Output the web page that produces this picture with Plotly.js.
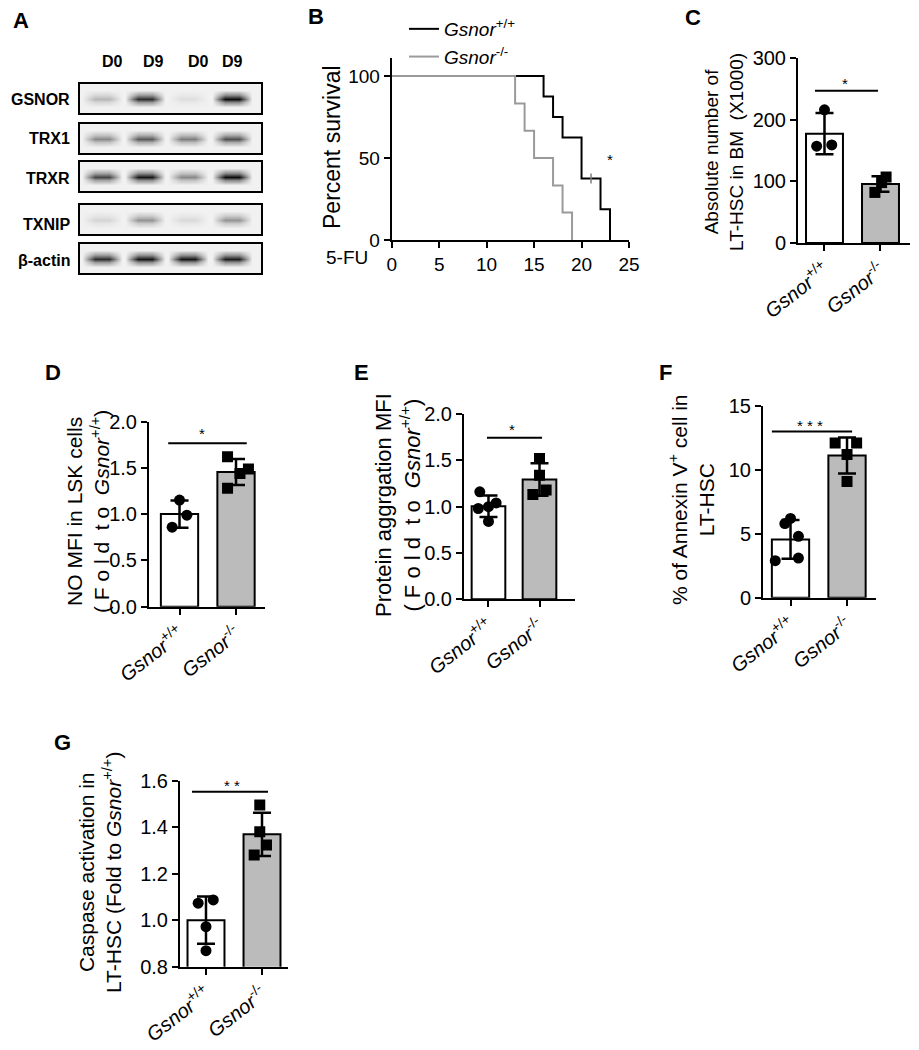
<!DOCTYPE html>
<html><head><meta charset="utf-8">
<script src="https://cdn.plot.ly/plotly-3.0.1.min.js"></script>
<style>html,body{margin:0;padding:0;background:#fff}#chart{width:919px;height:1050px}</style>
</head><body><div id="chart"></div>
<script>
// ================= DATA =================
// Panel A: western blot band darkness (0 = none, 1 = darkest), lanes D0, D9, D0, D9
const blotLanes = ['D0', 'D9', 'D0', 'D9'];
const blotProteins = ['GSNOR', 'TRX1', 'TRXR', 'TXNIP', 'β-actin'];
const gsnorBand = [0.25, 0.85, 0.08, 1.0];
const trx1Band = [0.45, 0.65, 0.5, 0.7];
const trxrBand = [0.75, 0.95, 0.45, 1.0];
const txnipBand = [0.12, 0.4, 0.1, 0.4];
const actinBand = [0.85, 0.95, 0.95, 0.92];

// Panel B: survival after 5-FU
const survWtDays = [0, 16, 17, 18, 20, 22, 23];
const survWtPct = [100, 87.5, 75, 62.5, 37.5, 18.75, 0];
const survKoDays = [0, 13, 14, 15, 17, 18, 19];
const survKoPct = [100, 83.3, 66.7, 50, 33.3, 16.7, 0];
const survWtCensorDay = [21];
const survWtCensorPct = [37.5];
const survXTicks = [0, 5, 10, 15, 20, 25];
const survYTicks = [0, 50, 100];

// Groups
const groupLabels = ['<i>Gsnor</i><sup>+/+</sup>', '<i>Gsnor</i><sup>-/-</sup>'];

// Panel C: absolute number of LT-HSC in BM (x1000)
const cWt = [216, 157, 159];
const cKo = [107, 98, 82];
// Panel D: NO MFI in LSK cells
const dWt = [1.153, 0.99, 0.86];
const dKo = [1.62, 1.49, 1.44, 1.28];
// Panel E: protein aggregation MFI
const eWt = [1.16, 1.04, 1.0, 0.98, 0.84];
const eKo = [1.52, 1.34, 1.18, 1.13];
// Panel F: % Annexin V+ in LT-HSC
const fWt = [6.2, 5.8, 4.8, 3.1, 2.9];
const fKo = [12.1, 12.1, 11.2, 9.1];
// Panel G: caspase activation in LT-HSC
const gWt = [1.073, 1.087, 0.972, 0.869];
const gKo = [1.495, 1.38, 1.323, 1.28];

// ================= LAYOUT / STYLE =================
const W = 919, H = 1050;
const FONT = 'Arial, "Liberation Sans", Helvetica, sans-serif';
const fx = p => p / W;
const fy = p => 1 - p / H;
const GRAY = '#bbbbbb';

// point jitter (horizontal offsets, in category units)
const cWtJit = [0.0, -0.14, 0.13], cKoJit = [0.1, 0.02, -0.1];
const dWtJit = [0.0, 0.13, -0.13], dKoJit = [-0.15, 0.22, 0.07, -0.15];
const eWtJit = [-0.17, 0.15, 0.0, -0.2, 0.0], eKoJit = [0.0, 0.0, 0.13, -0.13];
const fWtJit = [0.0, -0.1, 0.14, 0.14, -0.27], fKoJit = [-0.21, 0.17, 0.0, 0.0];
const gWtJit = [-0.14, 0.13, 0.0, 0.0], gKoJit = [-0.04, -0.04, 0.08, -0.14];

const mean = a => a.reduce((s, v) => s + v, 0) / a.length;
const sd = a => { const m = mean(a); return Math.sqrt(a.reduce((s, v) => s + (v - m) * (v - m), 0) / (a.length - 1)); };

const traces = [];
const layout = {
  width: W, height: H, margin: {l: 0, r: 0, t: 0, b: 0},
  paper_bgcolor: '#fff', plot_bgcolor: 'rgba(0,0,0,0)',
  font: {family: FONT, color: '#000', size: 19},
  showlegend: true,
  legend: {x: fx(404), y: fy(10), xanchor: 'left', yanchor: 'top', bgcolor: 'rgba(0,0,0,0)',
    font: {family: FONT, size: 19, color: '#000'}, tracegroupgap: 0, itemwidth: 30},
  annotations: [], shapes: []
};

function axisBase() {
  return {showgrid: false, zeroline: false, showline: true, linecolor: '#000', linewidth: 2,
    ticks: 'outside', ticklen: 6, tickwidth: 2, tickcolor: '#000',
    tickfont: {family: FONT, size: 20, color: '#000'}, fixedrange: true};
}

// ---------- Panel A: blots ----------
const bands = [gsnorBand, trx1Band, trxrBand, txnipBand, actinBand];
const blotBoxY = [[84, 113], [124, 153], [162, 191], [205, 234], [244, 273]];
const blotLabelY = [99, 138, 178, 224, 260];
const laneCenters = [22, 65, 108, 152];   // px from box left
const boxLeft = 80, boxRight = 261;
const bandHalf = 20, bandFlat = 7;
bands.forEach((b, i) => {
  const n = 7 + i;
  const xs = [0], rowBand = [0], rowSoft = [0];
  laneCenters.forEach((c, j) => {
    xs.push(Math.max(0.5, c - bandHalf), c - bandFlat, c + bandFlat, c + bandHalf);
    rowBand.push(0, b[j], b[j], 0);
    rowSoft.push(0, b[j] * 0.45, b[j] * 0.45, 0);
  });
  xs.push(boxRight - boxLeft); rowBand.push(0); rowSoft.push(0);
  const ys = [0, 0.22, 0.38, 0.5, 0.62, 0.78, 1];
  const zero = xs.map(() => 0);
  const z = [zero, zero, rowSoft, rowBand, rowSoft, zero, zero];
  traces.push({type: 'heatmap', x: xs, y: ys, z: z, zsmooth: 'best', zmin: 0, zmax: 1,
    colorscale: [[0, '#f1f1f1'], [0.5, '#7d7d7d'], [1, '#0c0c0c']], showscale: false,
    hoverinfo: 'skip', xaxis: 'x' + n, yaxis: 'y' + n, showlegend: false});
  layout['xaxis' + n] = {domain: [fx(boxLeft), fx(boxRight)], range: [0, boxRight - boxLeft], anchor: 'y' + n,
    showgrid: false, zeroline: false, showticklabels: false, ticks: '', showline: true, mirror: true,
    linecolor: '#000', linewidth: 1.6, fixedrange: true};
  layout['yaxis' + n] = {domain: [fy(blotBoxY[i][1]), fy(blotBoxY[i][0])], range: [0, 1], anchor: 'x' + n,
    showgrid: false, zeroline: false, showticklabels: false, ticks: '', showline: true, mirror: true,
    linecolor: '#000', linewidth: 1.6, fixedrange: true};
  layout.annotations.push({xref: 'paper', yref: 'paper', x: fx(72), y: fy(blotLabelY[i]), xanchor: 'right', yanchor: 'middle',
    text: '<b>' + blotProteins[i] + '</b>', showarrow: false, font: {family: FONT, size: 16}});
});
const laneHeaderX = [112.5, 153, 198, 233];
blotLanes.forEach((t, j) => layout.annotations.push({xref: 'paper', yref: 'paper', x: fx(laneHeaderX[j]), y: fy(62),
  xanchor: 'center', yanchor: 'middle', text: '<b>' + t + '</b>', showarrow: false, font: {family: FONT, size: 16}}));

// ---------- Panel B: survival ----------
traces.push({type: 'scatter', mode: 'lines', x: survWtDays, y: survWtPct, line: {shape: 'hv', color: '#000', width: 2},
  name: '<i>Gsnor</i><sup>+/+</sup>', xaxis: 'x', yaxis: 'y', hoverinfo: 'skip'});
traces.push({type: 'scatter', mode: 'lines', x: survKoDays, y: survKoPct, line: {shape: 'hv', color: '#9a9a9a', width: 2},
  name: '<i>Gsnor</i><sup>-/-</sup>', xaxis: 'x', yaxis: 'y', hoverinfo: 'skip'});
traces.push({type: 'scatter', mode: 'markers', x: survWtCensorDay, y: survWtCensorPct, showlegend: false,
  marker: {symbol: 'line-ns-open', size: 7, line: {color: '#000', width: 1.5}}, xaxis: 'x', yaxis: 'y', hoverinfo: 'skip'});
layout.xaxis = Object.assign(axisBase(), {domain: [fx(391.7), fx(629)], range: [0, 25], anchor: 'y',
  tickvals: survXTicks, tickfont: {family: FONT, size: 19}});
layout.yaxis = Object.assign(axisBase(), {domain: [fy(240), fy(58)], range: [0, 111], anchor: 'x',
  tickvals: survYTicks, tickfont: {family: FONT, size: 19}});
layout.annotations.push({xref: 'paper', yref: 'paper', x: fx(332), y: fy(147), text: 'Percent survival', textangle: -90,
  showarrow: false, xanchor: 'center', yanchor: 'middle', font: {family: FONT, size: 23}});
layout.annotations.push({xref: 'paper', yref: 'paper', x: fx(347), y: fy(257), text: '5-FU',
  showarrow: false, xanchor: 'center', yanchor: 'middle', font: {family: FONT, size: 19}});
layout.annotations.push({xref: 'x', yref: 'y', x: 23, y: 49, text: '*', showarrow: false,
  xanchor: 'center', yanchor: 'middle', font: {family: FONT, size: 15}});

// ---------- Bar panels ----------
function barPanel(n, wt, ko, wtJit, koJit, spec) {
  const xa = 'x' + n, ya = 'y' + n;
  traces.push({type: 'bar', x: [0, 1], y: [mean(wt), mean(ko)], width: 0.66, xaxis: xa, yaxis: ya,
    marker: {color: ['#ffffff', GRAY], line: {color: '#000', width: 2}}, showlegend: false, hoverinfo: 'skip',
    error_y: {type: 'data', array: [sd(wt), sd(ko)], visible: true, color: '#000', thickness: 2.5, width: 9}});
  traces.push({type: 'scatter', mode: 'markers', x: wtJit, y: wt, xaxis: xa, yaxis: ya, showlegend: false, hoverinfo: 'skip',
    marker: {symbol: 'circle', size: 11, color: '#000'}});
  traces.push({type: 'scatter', mode: 'markers', x: koJit.map(v => 1 + v), y: ko, xaxis: xa, yaxis: ya, showlegend: false, hoverinfo: 'skip',
    marker: {symbol: 'square', size: 11, color: '#000'}});
  layout['xaxis' + n] = Object.assign(axisBase(), {domain: [fx(spec.x0), fx(spec.x1)], range: spec.xr, anchor: ya,
    tickvals: [0, 1], ticktext: groupLabels, tickangle: -38, tickfont: {family: FONT, size: 20}});
  layout['yaxis' + n] = Object.assign(axisBase(), {domain: [fy(spec.y0), fy(spec.y1)], range: spec.yr, anchor: xa,
    dtick: spec.dtick, tickformat: spec.fmt, tickfont: {family: FONT, size: spec.tfs || 20}});
  layout.shapes.push({type: 'line', xref: xa, yref: ya, x0: spec.sig[0], x1: spec.sig[1], y0: spec.sig[2], y1: spec.sig[2],
    line: {color: '#000', width: 2}});
  layout.annotations.push({xref: xa, yref: ya, x: spec.star[0], y: spec.star[1], text: spec.star[2], showarrow: false,
    xanchor: 'center', yanchor: 'middle', font: {family: FONT, size: 15}});
  layout.annotations.push({xref: 'paper', yref: 'paper', x: fx(spec.title[0]), y: fy(spec.title[1]), text: spec.title[2],
    textangle: -90, showarrow: false, xanchor: 'center', yanchor: 'middle', font: {family: FONT, size: spec.title[3]}});
}

barPanel(2, cWt, cKo, cWtJit, cKoJit, {x0: 798, x1: 910, xr: [-0.473, 1.527], y0: 243, y1: 58, yr: [0, 300], dtick: 100, fmt: 'd',
  sig: [-0.17, 0.955, 247], star: [0.37, 258, '*'],
  title: [724, 152, 'Absolute number of<br>LT-HSC in BM  (X1000)', 19]});
barPanel(3, dWt, dKo, dWtJit, dKoJit, {x0: 149, x1: 265, xr: [-0.54, 1.513], y0: 606.7, y1: 421.7, yr: [0, 2], dtick: 0.5, fmt: '.1f',
  sig: [-0.2, 1.19, 1.766], star: [0.4, 1.87, '*'],
  title: [88, 512, 'NO MFI in LSK cells<br>( F o l d  t o  <i>Gsnor</i><sup>+/+</sup>)', 21]});
barPanel(4, eWt, eKo, eWtJit, eKoJit, {x0: 464, x1: 575, xr: [-0.48, 1.696], y0: 599.3, y1: 414, yr: [0, 2], dtick: 0.5, fmt: '.1f',
  sig: [-0.03, 1.05, 1.745], star: [0.46, 1.83, '*'],
  title: [398, 505, 'Protein aggrgation MFI<br>( F o l d  t o  <i>Gsnor</i><sup>+/+</sup>)', 22]});
barPanel(5, fWt, fKo, fWtJit, fKoJit, {x0: 763, x1: 876, xr: [-0.487, 1.513], y0: 597.7, y1: 406, yr: [0, 15], dtick: 5, fmt: 'd',
  sig: [-0.33, 1.09, 13], star: [0.35, 13.5, '* * *'],
  title: [691, 500, '% of Annexin V<sup>+</sup> cell in<br>LT-HSC', 21]});
barPanel(6, gWt, gKo, gWtJit, gKoJit, {x0: 180, x1: 288, xr: [-0.464, 1.464], y0: 966.7, y1: 780.7, yr: [0.8, 1.6], dtick: 0.2, fmt: '.1f',
  sig: [-0.25, 1.107, 1.553], star: [0.46, 1.58, '* *'],
  title: [100, 873, 'Caspase activation in<br>LT-HSC (Fold to <i>Gsnor</i><sup>+/+</sup>)', 21]});

// ---------- Panel letters ----------
const panelLetters = [['A', 21, 20], ['B', 316, 16], ['C', 693, 17], ['D', 53, 372], ['E', 361, 372], ['F', 665, 372], ['G', 62, 742]];
panelLetters.forEach(p => layout.annotations.push({xref: 'paper', yref: 'paper', x: fx(p[1]), y: fy(p[2]), text: '<b>' + p[0] + '</b>',
  showarrow: false, xanchor: 'center', yanchor: 'middle', font: {family: FONT, size: 22}}));

Plotly.newPlot('chart', traces, layout, {displayModeBar: false, staticPlot: true});
</script>
</body></html>
